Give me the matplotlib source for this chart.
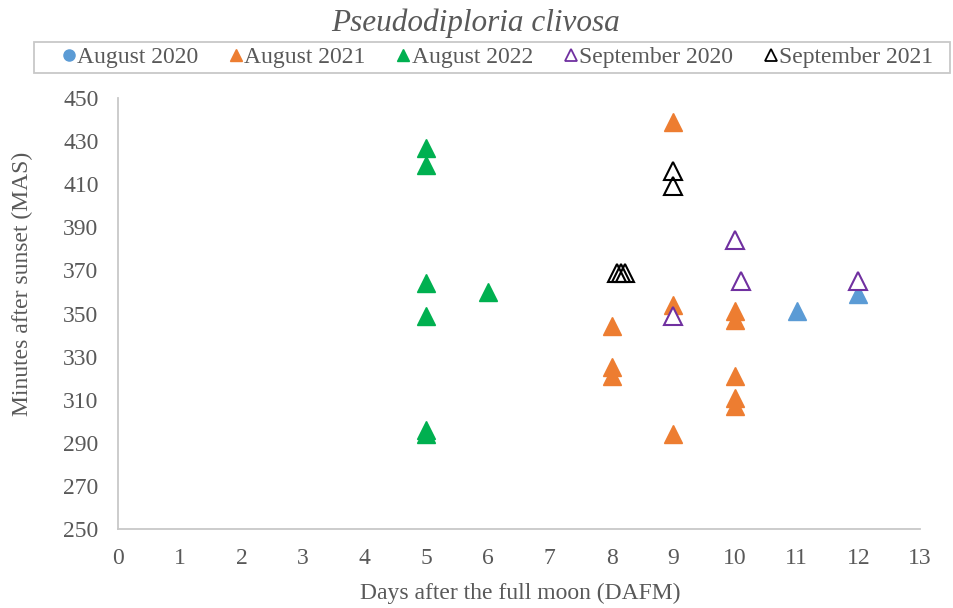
import matplotlib.pyplot as plt
from matplotlib.lines import Line2D
from matplotlib.patches import Rectangle

# DAFM (x) and MAS (y) per spawning event
aug2020_x = [11, 12]
aug2020_y = [351, 359]

aug2021_x = [8, 8, 8, 9, 9, 9, 10, 10, 10, 10, 10]
aug2021_y = [344, 325, 321, 439, 354, 294, 351, 347, 321, 311, 307]

aug2022_x = [5, 5, 5, 5, 5, 5, 6]
aug2022_y = [427, 419, 364, 349, 296, 294, 360]

sep2020_x = [9, 10, 10.1, 12]
sep2020_y = [349, 384, 365, 365]

sep2021_x = [9, 9, 8.08, 8.15, 8.22]
sep2021_y = [416, 409, 369, 369, 369]

labels = ['August 2020', 'August 2021', 'August 2022', 'September 2020', 'September 2021']
colors = ['#5b9bd5', '#ed7d31', '#00b050', '#7030a0', '#000000']

plt.rcParams['font.family'] = ['Liberation Serif', 'DejaVu Serif']
grey = '#595959'
fs = 17

fig = plt.figure(figsize=(9.54, 6.08), dpi=100)
ax = fig.add_axes([0.1237, 0.1299, 0.8407, 0.7089])

ms = 13
ax.plot(aug2020_x, aug2020_y, '^', color=colors[0], ms=ms, ls='none')
ax.plot(aug2021_x, aug2021_y, '^', color=colors[1], ms=ms, ls='none')
ax.plot(aug2022_x, aug2022_y, '^', color=colors[2], ms=ms, ls='none')
ax.plot(sep2020_x, sep2020_y, '^', mfc='white', mec=colors[3], mew=1.5, ms=ms, ls='none')
ax.plot(sep2021_x, sep2021_y, '^', mfc='none', mec=colors[4], mew=1.5, ms=ms, ls='none')

ax.set_xlim(0, 13)
ax.set_ylim(250, 450)
ax.set_xticks(range(0, 14))
ax.set_yticks(range(250, 451, 20))
ax.tick_params(length=0, labelsize=fs, labelcolor=grey)
ax.tick_params(axis='y', pad=14)
ax.tick_params(axis='x', pad=13.5)
for s in ['top', 'right']:
    ax.spines[s].set_visible(False)
for s in ['left', 'bottom']:
    ax.spines[s].set_color('#c8c8c8')
    ax.spines[s].set_linewidth(1.3)

ax.set_xlabel('Days after the full moon (DAFM)', fontsize=fs, color=grey, va='center')
ax.xaxis.set_label_coords(0.501, (529 - 593) / 431)
ax.set_ylabel('Minutes after sunset (MAS)', fontsize=fs, color=grey, va='center')
ax.yaxis.set_label_coords((22 - 118) / 802, (529 - 284) / 431)

fig.text(476 / 954, 1 - 23 / 608, 'Pseudodiploria clivosa', ha='center', va='center',
         fontsize=22.5, style='italic', color=grey)

handles = [
    Line2D([], [], marker='o', ls='none', color=colors[0], ms=8),
    Line2D([], [], marker='^', ls='none', color=colors[1], ms=9),
    Line2D([], [], marker='^', ls='none', color=colors[2], ms=9),
    Line2D([], [], marker='^', ls='none', mfc='white', mec=colors[3], mew=1.3, ms=9),
    Line2D([], [], marker='^', ls='none', mfc='white', mec=colors[4], mew=1.3, ms=9),
]
leg = fig.legend(handles, labels, loc='center',
                 bbox_to_anchor=(498 / 954, 1 - 57 / 608),
                 ncol=5, fontsize=fs, frameon=False,
                 handlelength=0.5, handletextpad=0.1, columnspacing=1.35,
                 borderpad=0.2, borderaxespad=0)
for t in leg.get_texts():
    t.set_color(grey)

# legend box drawn separately, wider than the entries like the original
fig.patches.append(Rectangle((34 / 954, 1 - 73 / 608), 916 / 954, 31 / 608,
                             transform=fig.transFigure, fill=False,
                             edgecolor='#c8c8c8', linewidth=1.3))

fig.savefig('out.png', dpi=100)
